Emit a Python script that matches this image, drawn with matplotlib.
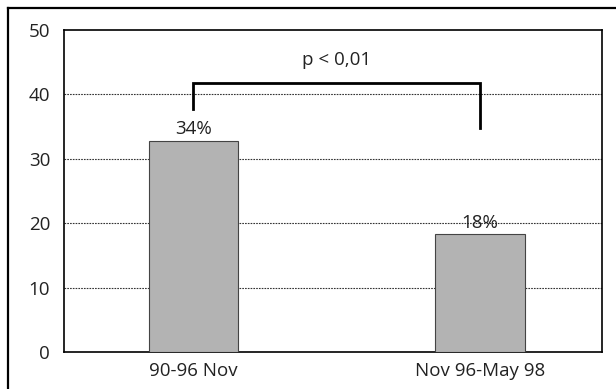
import matplotlib
matplotlib.use("Agg")
import matplotlib.pyplot as plt
from matplotlib.lines import Line2D

categories = ["90-96 Nov", "Nov 96-May 98"]
values = [32.8, 18.3]
labels = ["34%", "18%"]
yticks = [0, 10, 20, 30, 40, 50]
p_text = "p < 0,01"
bracket_left_y = 37.8
bracket_top_y = 41.8
bracket_right_y = 34.8
p_y = 43.9

plt.rcParams['font.family'] = ['Open Sans', 'DejaVu Sans']
FS = 13.5

W, H = 616, 389
fig = plt.figure(figsize=(W / 100, H / 100), dpi=100)
ax = fig.add_axes([64 / W, 1 - 352 / H, (602 - 64) / W, (352 - 30) / H])

x = [0, 1]
ax.bar(x, values, width=0.314, color="#b3b3b3", edgecolor="#444444", linewidth=0.8, zorder=3)
for xi, v, lab in zip(x, values, labels):
    ax.text(xi, v + 0.4, lab, ha="center", va="bottom", fontsize=FS, color="#222222", zorder=4)

ax.set_xlim(-0.452, 1.426)
ax.set_ylim(0, 50)
ax.set_yticks(yticks)
ax.set_yticklabels([str(t) for t in yticks], fontsize=FS, color="#222222")
ax.set_xticks(x)
ax.set_xticklabels(categories, fontsize=FS, color="#222222")
ax.tick_params(length=0, pad=10)
ax.tick_params(axis="x", pad=7)
for t in yticks[1:-1]:
    ax.axhline(t, color="#333333", linestyle=(0, (1.5, 1.0)), linewidth=0.8, zorder=1)
for s in ax.spines.values():
    s.set_color("black")
    s.set_linewidth(1.2)

# significance bracket
ax.plot([x[0], x[0], x[1], x[1]], [bracket_left_y, bracket_top_y, bracket_top_y, bracket_right_y],
        color="black", linewidth=2, zorder=5, solid_joinstyle="miter")
ax.text((x[0] + x[1]) / 2, p_y, p_text, ha="center", va="bottom", fontsize=FS, color="#222222")

# outer frame
fig.add_artist(Line2D([8 / W, 1], [1 - 8 / H, 1 - 8 / H], color="black", linewidth=1.6, transform=fig.transFigure))
fig.add_artist(Line2D([8 / W, 8 / W], [0, 1 - 8 / H], color="black", linewidth=1.6, transform=fig.transFigure))

fig.savefig("out.png", dpi=100)
